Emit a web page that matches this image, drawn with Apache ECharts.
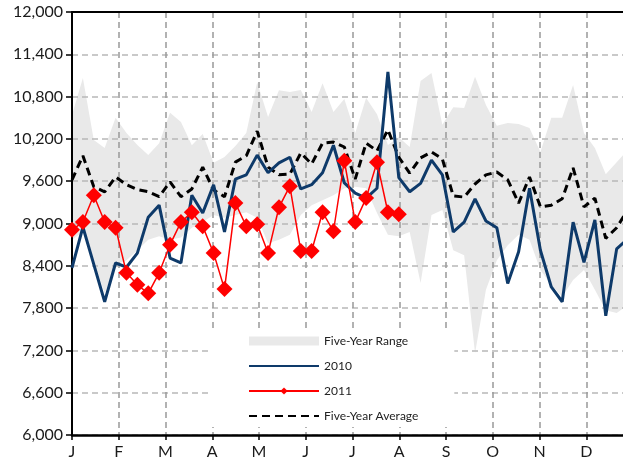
<!DOCTYPE html>
<html>
<head>
<meta charset="utf-8">
<script src="https://cdn.jsdelivr.net/npm/echarts/dist/echarts.min.js"></script>
<style>html,body{margin:0;padding:0;background:#fff;overflow:hidden;}#c{width:640px;height:466px;}</style>
</head>
<body>
<div id="c"></div>
<script>
const months = ['J','F','M','A','M','J','J','A','S','O','N','D'];
const yTicks = [6000, 12000, 600];
const rangeUpper = [
  10540, 11065, 10185, 10070, 10500, 10285, 10115, 9970, 10140, 10570,
  10440, 10110, 10270, 9860, 9945, 10100, 10285, 11005, 10510, 10890,
  10865, 10895, 10580, 10990, 10580, 10765, 10285, 10780, 10550, 10115,
  10225, 10085, 11020, 11135, 10400, 10650, 10640, 11080, 10680, 10385,
  10425, 10410, 10355, 10015, 10500, 10500, 10965, 10285, 10070, 9700,
  9870, 10040
];
const rangeLower = [
  8770, 8880, 8455, 8010, 8410, 8480, 8620, 8770, 8820, 8770,
  8800, 8940, 9020, 9120, 9080, 9120, 9160, 9080, 8720, 8770,
  8840, 9120, 9260, 9330, 9400, 9500, 9520, 9500, 9150, 8840,
  8820, 8880, 8155, 9120, 9190, 8620, 8550, 7160, 8060, 8480,
  8690, 8840, 8770, 8340, 8130, 7960, 8200, 8340, 8060, 7770,
  7730, 7840
];
const y2010 = [
  8370, 8950, 8420, 7890, 8440, 8380, 8580, 9090, 9260, 8510,
  8440, 9400, 9150, 9550, 8880, 9630, 9690, 9970, 9720, 9860,
  9940, 9490, 9550, 9720, 10110, 9575, 9430, 9360, 9500, 11150,
  9650, 9450, 9570, 9900, 9690, 8880, 9020, 9350, 9035, 8940,
  8150, 8600, 9500, 8620, 8100, 7890, 9020, 8450, 9050, 7690,
  8640, 8780
];
const y2011 = [
  8910, 9020, 9400, 9020, 8940, 8300, 8130, 8010, 8300, 8700,
  9020, 9160, 8960, 8580, 8070, 9290, 8960, 8990, 8580, 9230,
  9530, 8610, 8610, 9160, 8890, 9890, 9020, 9360, 9870, 9160,
  9130
];
const avg5 = [
  9620, 9960, 9520, 9450, 9660, 9550, 9480, 9450, 9380, 9590,
  9380, 9490, 9800, 9475, 9380, 9870, 9960, 10310, 9800, 9690,
  9700, 10000, 9845, 10140, 10155, 10085, 9630, 10140, 10030, 10330,
  9940, 9715, 9930, 10015, 9915, 9390, 9375, 9560, 9690, 9730,
  9620, 9290, 9660, 9235, 9260, 9350, 9790, 9235, 9360, 8790,
  8940, 9190
];

const XMAX = 51.5;
const MONTH = XMAX / 12;
const pairs = arr => arr.map((v, i) => [i, v]);

const chart = echarts.init(document.getElementById('c'), null, {renderer: 'canvas'});
const FONT = 'Lato, "Open Sans", sans-serif';
chart.setOption({
  animation: false,
  backgroundColor: '#fff',
  textStyle: {fontFamily: FONT},
  grid: {left: 72, top: 12, width: 561, height: 423, outerBoundsMode: 'none', containLabel: false},
  xAxis: [{
    type: 'value', min: 0, max: XMAX, interval: MONTH, z: 2,
    axisLine: {show: true, onZero: false, lineStyle: {color: '#000', width: 2.5}},
    axisTick: {show: true, length: 5, lineStyle: {color: '#000', width: 1.5}},
    axisLabel: {
      color: '#1a1a1a', fontSize: 16, margin: 9, fontFamily: FONT,
      formatter: v => months[Math.round(v / MONTH)] || ''
    },
    splitLine: {show: true, lineStyle: {color: '#999999', type: [6, 4], width: 1.5}}
  }, {
    type: 'value', position: 'top', min: 0, max: XMAX, interval: MONTH, z: 2,
    axisLine: {show: true, lineStyle: {color: '#000', width: 2}},
    axisTick: {show: false}, axisLabel: {show: false}, splitLine: {show: false}
  }],
  yAxis: {
    type: 'value', min: yTicks[0], max: yTicks[1], interval: yTicks[2], z: 2,
    axisLine: {show: true, lineStyle: {color: '#000', width: 2}},
    axisTick: {show: true, length: 6, lineStyle: {color: '#000', width: 1.5}},
    axisLabel: {color: '#1a1a1a', fontSize: 16, margin: 9, fontFamily: FONT},
    splitLine: {show: true, lineStyle: {color: '#b8b8b8', type: [6, 4], width: 1.5}}
  },
  legend: {
    left: 209, top: 329, orient: 'vertical', z: 10,
    backgroundColor: '#fff',
    padding: [6, 36, 5, 39],
    itemGap: 13, itemWidth: 70, itemHeight: 9,
    textStyle: {fontSize: 12, color: '#222', fontFamily: FONT},
    data: [
      {name: 'Five-Year Range', icon: 'rect'},
      {name: '2010', itemStyle: {opacity: 0}},
      {name: '2011'},
      {name: 'Five-Year Average', itemStyle: {opacity: 0}}
    ]
  },
  series: [
    {
      name: 'Five-Year Range', type: 'line', data: pairs(rangeUpper),
      symbol: 'none', lineStyle: {width: 0, opacity: 0},
      itemStyle: {color: '#e9e9e9'},
      areaStyle: {color: '#e9e9e9', opacity: 1, origin: 'start'},
      silent: true, z: 1
    },
    {
      name: 'rangeBase', type: 'line', data: pairs(rangeLower),
      symbol: 'none', lineStyle: {width: 0, opacity: 0},
      itemStyle: {color: '#ffffff'},
      areaStyle: {color: '#ffffff', opacity: 1, origin: 'start'},
      silent: true, z: 1
    },
    {
      name: 'Five-Year Average', type: 'line', data: pairs(avg5), symbol: 'none',
      lineStyle: {color: '#000', width: 3, type: [8, 5]}, itemStyle: {color: '#000'}, z: 3
    },
    {
      name: '2010', type: 'line', data: pairs(y2010), symbol: 'none',
      lineStyle: {color: '#0e3a6a', width: 3}, itemStyle: {color: '#0e3a6a'}, z: 4
    },
    {
      name: '2011', type: 'line', data: pairs(y2011), symbol: 'diamond', symbolSize: 16,
      lineStyle: {color: '#ff0000', width: 1.5}, itemStyle: {color: '#ff0000'}, z: 5
    }
  ]
});
</script>
</body>
</html>
